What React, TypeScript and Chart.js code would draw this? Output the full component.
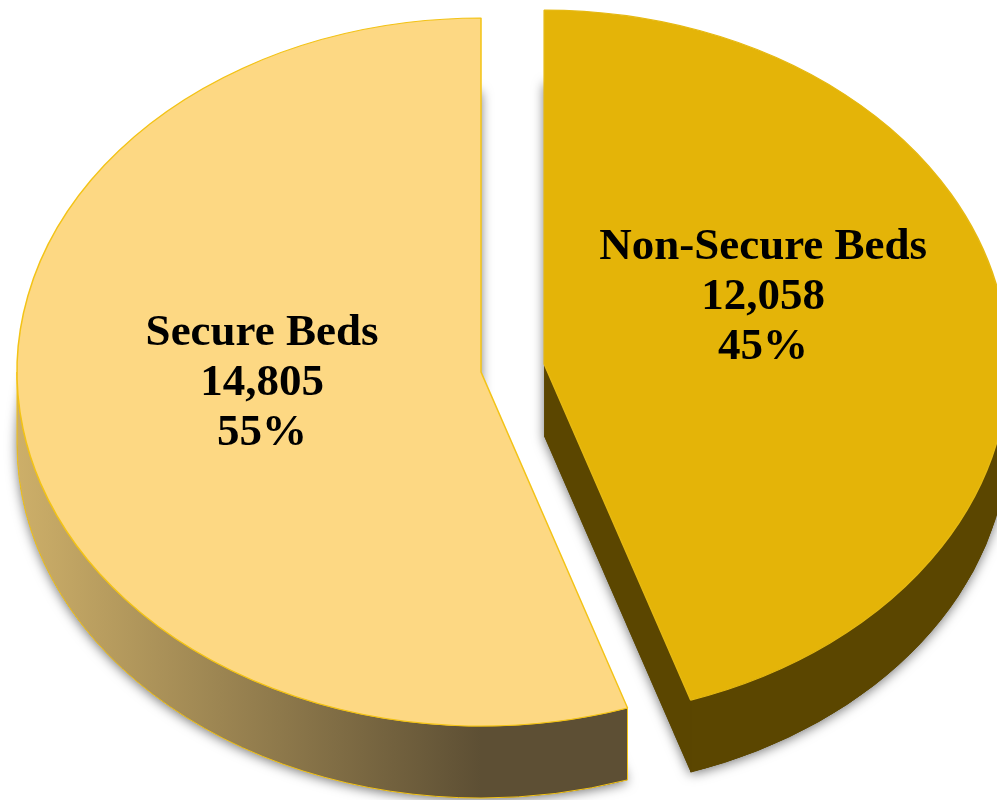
import React, { useEffect, useRef } from "react";
import { Chart, registerables } from "chart.js";

Chart.register(...registerables);

// ---- data ----
const categories = ["Secure Beds", "Non-Secure Beds"];
const bedCounts = [14805, 12058];

// ---- style ----
const topColors = ["#FDD883", "#E4B408"];
const borderColors = ["#F3C316", "#E6B912"];
const sideStops: string[][] = [
  ["#CDAF69", "#5D4F34"],
  ["#5B4600", "#5B4600"],
];
const TILT = 0.763; // vertical squash of the pie (3D view)
const DEPTH = 72; // thickness of the pie in px
const RADIUS = 464;
const EXPLODE = [0, 64];
const LABEL_NUDGE = [-19, -43];
const LABEL_FONT = "bold 45px 'Liberation Serif', 'Times New Roman', serif";

function visibleRanges(s: number, e: number): number[][] {
  const out: number[][] = [];
  const TAU = Math.PI * 2;
  for (let k = -2; k <= 2; k++) {
    const a = Math.max(s, k * TAU);
    const b = Math.min(e, k * TAU + Math.PI);
    if (b > a) out.push([a, b]);
  }
  return out;
}

const pie3d = {
  id: "pie3d",
  afterUpdate(chart: any) {
    const meta = chart.getDatasetMeta(0);
    meta.data.forEach((el: any, i: number) => {
      const d = EXPLODE[i] || 0;
      if (!d) return;
      const mid = (el.startAngle + el.endAngle) / 2;
      el.x += Math.cos(mid) * d;
      el.y += Math.sin(mid) * d;
    });
  },
  beforeDatasetsDraw(chart: any) {
    const ctx: CanvasRenderingContext2D = chart.ctx;
    const area = chart.chartArea;
    const y0 = (area.top + area.bottom) / 2;
    const arcs = chart.getDatasetMeta(0).data;

    const geo = arcs.map((el: any) => {
      const R = el.outerRadius;
      return {
        cx: el.x,
        cy: y0 + (el.y - y0) * TILT,
        R,
        Ry: R * TILT,
        s: el.startAngle,
        e: el.endAngle,
      };
    });

    const sideFill = (i: number, g: any) => {
      const grad = ctx.createLinearGradient(g.cx - g.R, 0, g.cx, 0);
      grad.addColorStop(0, sideStops[i][0]);
      grad.addColorStop(1, sideStops[i][1]);
      return grad;
    };

    // shadow cast by the body
    ctx.save();
    geo.forEach((g: any, i: number) => {
      ctx.beginPath();
      ctx.moveTo(g.cx, g.cy + DEPTH);
      ctx.ellipse(g.cx, g.cy + DEPTH, g.R, g.Ry, 0, g.s, g.e);
      ctx.closePath();
      ctx.shadowColor = "rgba(0,0,0,0.55)";
      ctx.shadowBlur = 12;
      ctx.shadowOffsetX = 0;
      ctx.shadowOffsetY = 2;
      ctx.fillStyle = sideStops[i][1];
      ctx.fill();
    });
    ctx.restore();

    // side walls and cut faces
    geo.forEach((g: any, i: number) => {
      ctx.save();
      const fill = sideFill(i, g);
      ctx.fillStyle = fill;
      ctx.strokeStyle = i === 0 ? borderColors[i] : sideStops[i][1];
      ctx.lineWidth = 1;

      const face = (ang: number) => {
        const rx = g.cx + Math.cos(ang) * g.R;
        const ry = g.cy + Math.sin(ang) * g.Ry;
        ctx.beginPath();
        ctx.moveTo(g.cx, g.cy);
        ctx.lineTo(rx, ry);
        ctx.lineTo(rx, ry + DEPTH);
        ctx.lineTo(g.cx, g.cy + DEPTH);
        ctx.closePath();
        ctx.fill();
      };
      if (Math.cos(g.e) > 0.01) face(g.e);
      if (Math.cos(g.s) < -0.01) face(g.s);

      visibleRanges(g.s, g.e).forEach(([a, b]) => {
        ctx.beginPath();
        ctx.ellipse(g.cx, g.cy, g.R, g.Ry, 0, a, b);
        ctx.ellipse(g.cx, g.cy + DEPTH, g.R, g.Ry, 0, b, a, true);
        ctx.closePath();
        ctx.fill();
        ctx.stroke();
      });
      ctx.restore();
    });

    // squash the top faces drawn by Chart.js
    ctx.save();
    ctx.translate(0, y0);
    ctx.scale(1, TILT);
    ctx.translate(0, -y0);
  },
  afterDatasetsDraw(chart: any) {
    const ctx: CanvasRenderingContext2D = chart.ctx;
    ctx.restore();
    const area = chart.chartArea;
    const y0 = (area.top + area.bottom) / 2;
    const arcs = chart.getDatasetMeta(0).data;
    const values: number[] = chart.data.datasets[0].data;
    const total = values.reduce((a, b) => a + b, 0);
    ctx.save();
    ctx.font = LABEL_FONT;
    ctx.fillStyle = "#000000";
    ctx.textAlign = "center";
    ctx.textBaseline = "alphabetic";
    arcs.forEach((el: any, i: number) => {
      const mid = (el.startAngle + el.endAngle) / 2;
      const cx = el.x;
      const cy = y0 + (el.y - y0) * TILT;
      const R = el.outerRadius;
      const x = cx + Math.cos(mid) * R * 0.478;
      const y = cy + Math.sin(mid) * R * TILT * 0.478 + LABEL_NUDGE[i];
      const lines = [
        chart.data.labels[i],
        values[i].toLocaleString("en-US"),
        Math.round((values[i] / total) * 100) + "%",
      ];
      lines.forEach((t: string, j: number) => {
        ctx.fillText(t, x, y + (j - 1) * 50 + 15);
      });
    });
    ctx.restore();
  },
};

export default function App() {
  const ref = useRef<HTMLCanvasElement>(null);
  useEffect(() => {
    if (!ref.current) return;
    const total = bedCounts.reduce((a, b) => a + b, 0);
    const rotation = 360 - (360 * bedCounts[0]) / total;
    const chart = new Chart(ref.current, {
      type: "pie",
      data: {
        labels: categories,
        datasets: [
          {
            data: bedCounts,
            backgroundColor: topColors,
            borderColor: borderColors,
            borderWidth: 1.5,
            radius: RADIUS,
            rotation,
            clip: false,
          } as any,
        ],
      },
      options: {
        animation: false,
        responsive: true,
        maintainAspectRatio: false,
        events: [],
        rotation,
        radius: RADIUS,
        layout: { padding: { left: 0, right: 35, top: 0, bottom: 56 } },
        plugins: {
          legend: { display: false },
          tooltip: { enabled: false },
          title: { display: false },
        },
      } as any,
      plugins: [pie3d as any],
    });
    return () => chart.destroy();
  }, []);
  return (
    <div
      style={{
        position: "fixed",
        left: 0,
        top: 0,
        width: 997,
        height: 800,
        background: "#ffffff",
      }}
    >
      <canvas ref={ref} />
    </div>
  );
}
